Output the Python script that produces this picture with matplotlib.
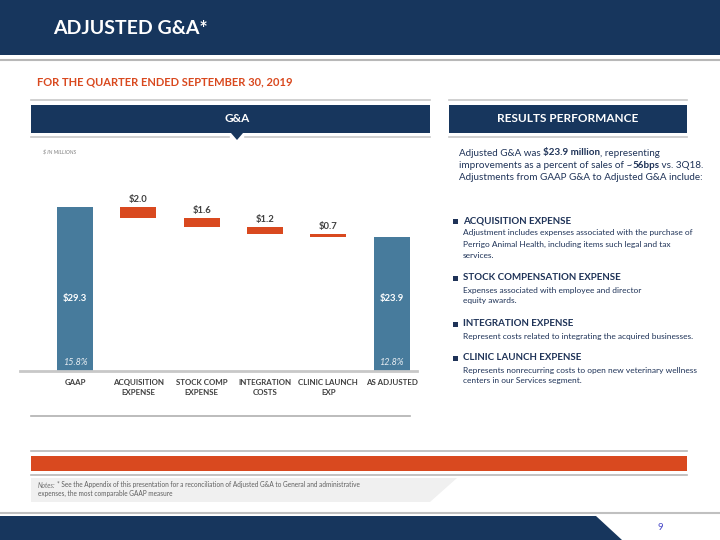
import numpy as np
import matplotlib
matplotlib.use('Agg')
import matplotlib.pyplot as plt
from matplotlib.patches import Rectangle, Polygon

plt.rcParams['font.family'] = ['Lato', 'DejaVu Sans']

# 資料
categories = ['GAAP', 'ACQUISITION\nEXPENSE', 'STOCK COMP\nEXPENSE', 'INTEGRATION\nCOSTS',
              'CLINIC LAUNCH\nEXP', 'AS ADJUSTED']
gaap_total = 29.3
adjustments = [2.0, 1.6, 1.2, 0.7]
adjusted_total = 23.9
pct_labels = ['15.8%', '12.8%']

navy = '#17365D'
blue = '#477B9C'
orange = '#D9491F'
text_navy = '#1F3358'

fig = plt.figure(figsize=(7.2, 5.4), dpi=100)

# 背景 (以像素座標繪製)
bg = fig.add_axes([0, 0, 1, 1])
bg.set_xlim(0, 720)
bg.set_ylim(540, 0)
bg.axis('off')

bg.add_patch(Rectangle((0, 0), 720, 55, color=navy, lw=0))
bg.plot([0, 720], [60, 60], color='#b8b8b8', lw=1.5)
bg.text(53, 29, 'ADJUSTED G&A*', color='white', fontsize=14, fontweight='bold', va='center')
bg.text(37, 82, 'FOR THE QUARTER ENDED SEPTEMBER 30, 2019', color=orange, fontsize=8,
        fontweight='bold', va='center')

# 標題框
bg.plot([31, 430], [100, 100], color='#c8c8c8', lw=1.2)
bg.plot([449, 687], [100, 100], color='#c8c8c8', lw=1.2)
bg.add_patch(Rectangle((31, 105), 399, 28, color=navy, lw=0))
bg.add_patch(Polygon([[231, 133], [243, 133], [237, 140]], closed=True, color=navy, lw=0))
bg.add_patch(Rectangle((449, 105), 238, 28, color=navy, lw=0))
bg.plot([31, 229], [137, 137], color='#c8c8c8', lw=1.2)
bg.plot([245, 430], [137, 137], color='#c8c8c8', lw=1.2)
bg.plot([449, 687], [137, 137], color='#c8c8c8', lw=1.2)
bg.text(237, 119, 'G&A', color='white', fontsize=8.5, fontweight='bold', ha='center', va='center')
bg.text(568, 119, 'RESULTS PERFORMANCE', color='white', fontsize=8.5, fontweight='bold',
        ha='center', va='center')
bg.text(43, 152, '$ IN MILLIONS', color='#808080', fontsize=3.8, style='italic', va='center')
bg.plot([31, 410], [416, 416], color='#b0b0b0', lw=1.2)

# 右側文字
def mixed_line(x, y, parts, size=7.1):
    t = bg.text(x, y, parts[0][0], fontsize=size, color=text_navy,
                fontweight='bold' if parts[0][1] else 'normal', va='center')
    for s, b in parts[1:]:
        t = bg.annotate(s, xy=(1, 0), xycoords=t, va='bottom', fontsize=size, color=text_navy,
                        fontweight='bold' if b else 'normal')

mixed_line(459, 153, [('Adjusted G&A was ', False), ('$23.9 million', True), (', representing', False)])
mixed_line(459, 166, [('improvements as a percent of sales of ~', False), ('56bps', True),
                      (' vs. 3Q18.', False)])
mixed_line(459, 178, [('Adjustments from GAAP G&A to Adjusted G&A include:', False)])

bullets = [
    ('ACQUISITION EXPENSE', 221, ['Adjustment includes expenses associated with the purchase of',
                                  'Perrigo Animal Health, including items such legal and tax',
                                  'services.']),
    ('STOCK COMPENSATION EXPENSE', 278, ['Expenses associated with employee and director',
                                         'equity awards.']),
    ('INTEGRATION EXPENSE', 324, ['Represent costs related to integrating the acquired businesses.']),
    ('CLINIC LAUNCH EXPENSE', 358, ['Represents nonrecurring costs to open new veterinary wellness',
                                    'centers in our Services segment.']),
]
for head, y, lines in bullets:
    bg.add_patch(Rectangle((452.5, y - 2.5), 5, 5, color=text_navy, lw=0))
    bg.text(463, y, head, fontsize=7, fontweight='bold', color=text_navy, va='center')
    for i, ln in enumerate(lines):
        bg.text(463, y + 12 + i * 11, ln, fontsize=6, color=text_navy, va='center')

# 底部
bg.plot([31, 687], [451, 451], color='#b8b8b8', lw=1.2)
bg.add_patch(Rectangle((31, 456), 656, 15, color=orange, lw=0))
bg.plot([31, 687], [475, 475], color='#b8b8b8', lw=1.2)
bg.add_patch(Polygon([[31, 478], [457, 478], [430, 502], [31, 502]], closed=True,
                     color='#f0f0f0', lw=0))
bg.text(38, 485, 'Notes:', fontsize=4.7, color='#707070', style='italic', va='center')
bg.text(57, 485, '* See the Appendix of this presentation for a reconciliation of Adjusted G&A '
        'to General and administrative', fontsize=4.7, color='#606060', va='center')
bg.text(38, 493, 'expenses, the most comparable GAAP measure', fontsize=4.7, color='#606060',
        va='center')
bg.plot([0, 720], [513, 513], color='#c0c0c0', lw=1.5)
bg.add_patch(Polygon([[0, 516], [596, 516], [622, 540], [0, 540]], closed=True, color=navy, lw=0))
bg.text(660, 527, '9', fontsize=7, color='#4a4ac8', ha='center', va='center')

# 瀑布圖
ax = fig.add_axes([20 / 720, (540 - 371) / 540, 397 / 720, 202 / 540])
x = np.arange(len(categories))
tops = gaap_total - np.cumsum(adjustments)
heights = [gaap_total] + adjustments + [adjusted_total]
bottoms = [0] + list(tops) + [0]
colors = [blue] + [orange] * len(adjustments) + [blue]
bars = ax.bar(x, heights, bottom=bottoms, color=colors, width=0.57)

for i, v in enumerate(adjustments):
    ax.annotate(f'${v:.1f}', (x[i + 1], bottoms[i + 1] + v), xytext=(0, 2),
                textcoords='offset points', ha='center', va='bottom', fontsize=6.8,
                fontweight='bold', color='#404040')
for xi, v, p in [(x[0], gaap_total, pct_labels[0]), (x[-1], adjusted_total, pct_labels[1])]:
    ax.text(xi, 13, f'${v:.1f}', ha='center', va='center', fontsize=6.8, fontweight='bold',
            color='white')
    ax.text(xi, 1.6, p, ha='center', va='center', fontsize=6.5, style='italic', color='#e8eef3')

ax.set_xlim(-0.87, 5.4)
ax.set_ylim(0, 36)
ax.set_yticks([])
ax.set_xticks(x, categories, fontweight='bold')
ax.tick_params(axis='x', length=0, pad=6, labelsize=5.7, labelcolor='#404040')
for lbl in ax.get_xticklabels():
    lbl.set_linespacing(1.45)
for s in ['top', 'left', 'right']:
    ax.spines[s].set_visible(False)
ax.spines['bottom'].set_color('#c8c8c8')
ax.spines['bottom'].set_linewidth(2)
ax.patch.set_alpha(0)

fig.savefig('out.png', dpi=100)
